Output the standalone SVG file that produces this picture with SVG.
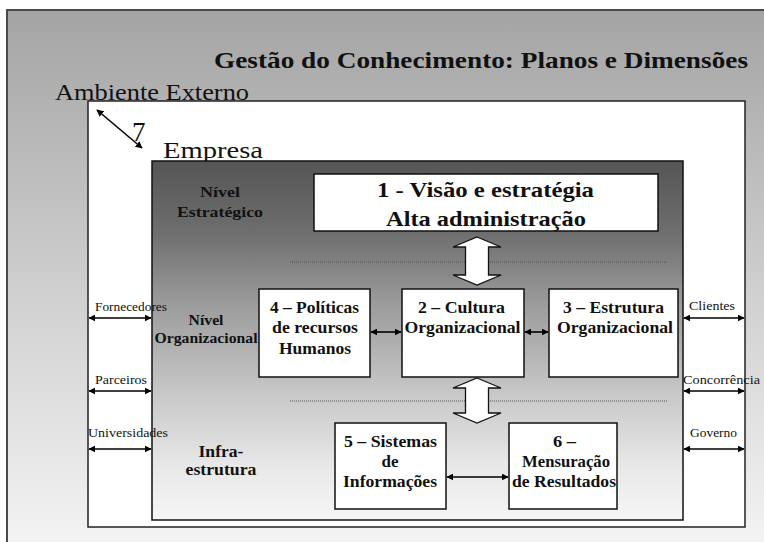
<svg xmlns="http://www.w3.org/2000/svg" width="764" height="542" viewBox="0 0 764 542">
<defs>
<linearGradient id="bgGrad" x1="0" y1="0" x2="0" y2="1">
<stop offset="0" stop-color="#a4a4a4"/>
<stop offset="0.6" stop-color="#d6d6d6"/>
<stop offset="1" stop-color="#f4f4f4"/>
</linearGradient>
<linearGradient id="empGrad" x1="0" y1="0" x2="0" y2="1">
<stop offset="0" stop-color="#555"/>
<stop offset="0.2" stop-color="#6e6e6e"/>
<stop offset="0.4" stop-color="#9c9c9c"/>
<stop offset="0.65" stop-color="#c8c8c8"/>
<stop offset="0.85" stop-color="#e8e8e8"/>
<stop offset="1" stop-color="#f6f6f6"/>
</linearGradient>
<marker id="ah" viewBox="0 0 10 10" refX="9" refY="5" markerWidth="7" markerHeight="7" markerUnits="userSpaceOnUse" orient="auto-start-reverse">
<path d="M0,0 L10,5 L0,10 z" fill="#000"/>
</marker>
</defs>
<style>
.t{font-family:"Liberation Serif","Times New Roman",Times,serif;fill:#111;}
.b{font-weight:bold;}
.box{fill:#fff;stroke:#111;stroke-width:1.5;}
.arr{stroke:#000;stroke-width:1.6;fill:none;marker-start:url(#ah);marker-end:url(#ah);}
.dot{stroke:#555;stroke-width:1;stroke-dasharray:1 1;}
.blk{fill:#fff;stroke:#111;stroke-width:1.3;}
.lbl{font-size:12.5px;}
.node{font-size:17px;}
</style>
<rect x="0" y="0" width="764" height="542" fill="#fff"/>
<rect x="7" y="10" width="760" height="540" fill="url(#bgGrad)"/>
<path d="M7,542 L7,10 L764,10" fill="none" stroke="#4a4a4a" stroke-width="2"/>
<text class="t b" x="214" y="68" font-size="23" textLength="534" lengthAdjust="spacingAndGlyphs">Gestão do Conhecimento: Planos e Dimensões</text>
<g id="ambiente">
<text class="t" x="55" y="100" font-size="24" textLength="194" lengthAdjust="spacingAndGlyphs">Ambiente Externo</text>
<rect x="88" y="101" width="657" height="426" fill="#fff" stroke="#222" stroke-width="1.5"/>
</g>
<g id="empresa">
<text class="t" x="163" y="158" font-size="24" textLength="100" lengthAdjust="spacingAndGlyphs">Empresa</text>
<rect x="152" y="161" width="531" height="359" fill="url(#empGrad)" stroke="#111" stroke-width="1.5"/>
<text class="t b" text-anchor="middle" x="220" y="197" font-size="15" textLength="40" lengthAdjust="spacingAndGlyphs">Nível</text>
<text class="t b" text-anchor="middle" x="220" y="217" font-size="15" textLength="86" lengthAdjust="spacingAndGlyphs">Estratégico</text>
<text class="t b" text-anchor="middle" x="206" y="325" font-size="15" textLength="35" lengthAdjust="spacingAndGlyphs">Nível</text>
<text class="t b" text-anchor="middle" x="206" y="343" font-size="15.5" textLength="103" lengthAdjust="spacingAndGlyphs">Organizacional</text>
<text class="t b" text-anchor="middle" x="221" y="457" font-size="17" textLength="45" lengthAdjust="spacingAndGlyphs">Infra-</text>
<text class="t b" text-anchor="middle" x="221" y="475" font-size="17" textLength="71" lengthAdjust="spacingAndGlyphs">estrutura</text>
</g>
<g id="seven">
<text class="t" x="132" y="141" font-size="27">7</text>
</g>
<g id="connectors">
<line class="arr" x1="97" y1="110" x2="142" y2="148"/>
<line class="dot" x1="290" y1="262" x2="667" y2="262"/>
<line class="dot" x1="290" y1="401" x2="667" y2="401"/>
<path class="blk" d="M477,237 L501,247 L488.5,247 L488.5,275 L501,275 L477,285 L453,275 L465.5,275 L465.5,247 L453,247 Z"/>
<path class="blk" d="M477,378 L501,388 L488.5,388 L488.5,413 L501,413 L477,423 L453,413 L465.5,413 L465.5,388 L453,388 Z"/>
<line class="arr" x1="371" y1="332" x2="401" y2="332"/>
<line class="arr" x1="525" y1="332" x2="548" y2="332"/>
<line class="arr" x1="447" y1="477" x2="508" y2="477"/>
<line class="arr" x1="89" y1="318" x2="151" y2="318"/>
<line class="arr" x1="89" y1="391" x2="151" y2="391"/>
<line class="arr" x1="89" y1="449" x2="151" y2="449"/>
<line class="arr" x1="684" y1="318" x2="744" y2="318"/>
<line class="arr" x1="684" y1="391" x2="744" y2="391"/>
<line class="arr" x1="684" y1="449" x2="744" y2="449"/>
<text class="t lbl" x="95" y="311" textLength="72" lengthAdjust="spacingAndGlyphs">Fornecedores</text>
<text class="t lbl" x="95" y="384" textLength="52" lengthAdjust="spacingAndGlyphs">Parceiros</text>
<text class="t lbl" x="88" y="437" textLength="80" lengthAdjust="spacingAndGlyphs">Universidades</text>
<text class="t lbl" x="689" y="310" textLength="46" lengthAdjust="spacingAndGlyphs">Clientes</text>
<text class="t lbl" x="683" y="384" textLength="77" lengthAdjust="spacingAndGlyphs">Concorrência</text>
<text class="t lbl" x="690" y="437" textLength="47" lengthAdjust="spacingAndGlyphs">Governo</text>
</g>
<g id="n1">
<rect class="box" x="314" y="174" width="344" height="57"/>
<text class="t b" text-anchor="middle" x="485.5" y="197" font-size="21" textLength="217" lengthAdjust="spacingAndGlyphs">1 - Visão e estratégia</text>
<text class="t b" text-anchor="middle" x="486" y="226" font-size="21" textLength="200" lengthAdjust="spacingAndGlyphs">Alta administração</text>
</g>
<g id="n4">
<rect class="box" x="259" y="289" width="111" height="88"/>
<text class="t b node" text-anchor="middle" x="314.5" y="313" textLength="89" lengthAdjust="spacingAndGlyphs">4 – Políticas</text>
<text class="t b node" text-anchor="middle" x="315" y="333" textLength="86" lengthAdjust="spacingAndGlyphs">de recursos</text>
<text class="t b node" text-anchor="middle" x="315" y="354" textLength="72" lengthAdjust="spacingAndGlyphs">Humanos</text>
</g>
<g id="n2">
<rect class="box" x="402" y="289" width="122" height="88"/>
<text class="t b node" text-anchor="middle" x="461.5" y="313" textLength="87" lengthAdjust="spacingAndGlyphs">2 – Cultura</text>
<text class="t b node" text-anchor="middle" x="462.5" y="333" textLength="116" lengthAdjust="spacingAndGlyphs">Organizacional</text>
</g>
<g id="n3">
<rect class="box" x="549" y="289" width="129" height="88"/>
<text class="t b node" text-anchor="middle" x="613.5" y="313" textLength="101" lengthAdjust="spacingAndGlyphs">3 – Estrutura</text>
<text class="t b node" text-anchor="middle" x="615" y="333" textLength="116" lengthAdjust="spacingAndGlyphs">Organizacional</text>
</g>
<g id="n5">
<rect class="box" x="335" y="423" width="111" height="86"/>
<text class="t b node" text-anchor="middle" x="390.5" y="447" textLength="93" lengthAdjust="spacingAndGlyphs">5 – Sistemas</text>
<text class="t b node" text-anchor="middle" x="390" y="467">de</text>
<text class="t b node" text-anchor="middle" x="390" y="487" textLength="94" lengthAdjust="spacingAndGlyphs">Informações</text>
</g>
<g id="n6">
<rect class="box" x="509" y="423" width="108" height="86"/>
<text class="t b node" text-anchor="middle" x="564.5" y="447" textLength="23" lengthAdjust="spacingAndGlyphs">6 –</text>
<text class="t b node" text-anchor="middle" x="566" y="467" textLength="88" lengthAdjust="spacingAndGlyphs">Mensuração</text>
<text class="t b node" text-anchor="middle" x="564" y="487" textLength="104" lengthAdjust="spacingAndGlyphs">de Resultados</text>
</g>
</svg>
